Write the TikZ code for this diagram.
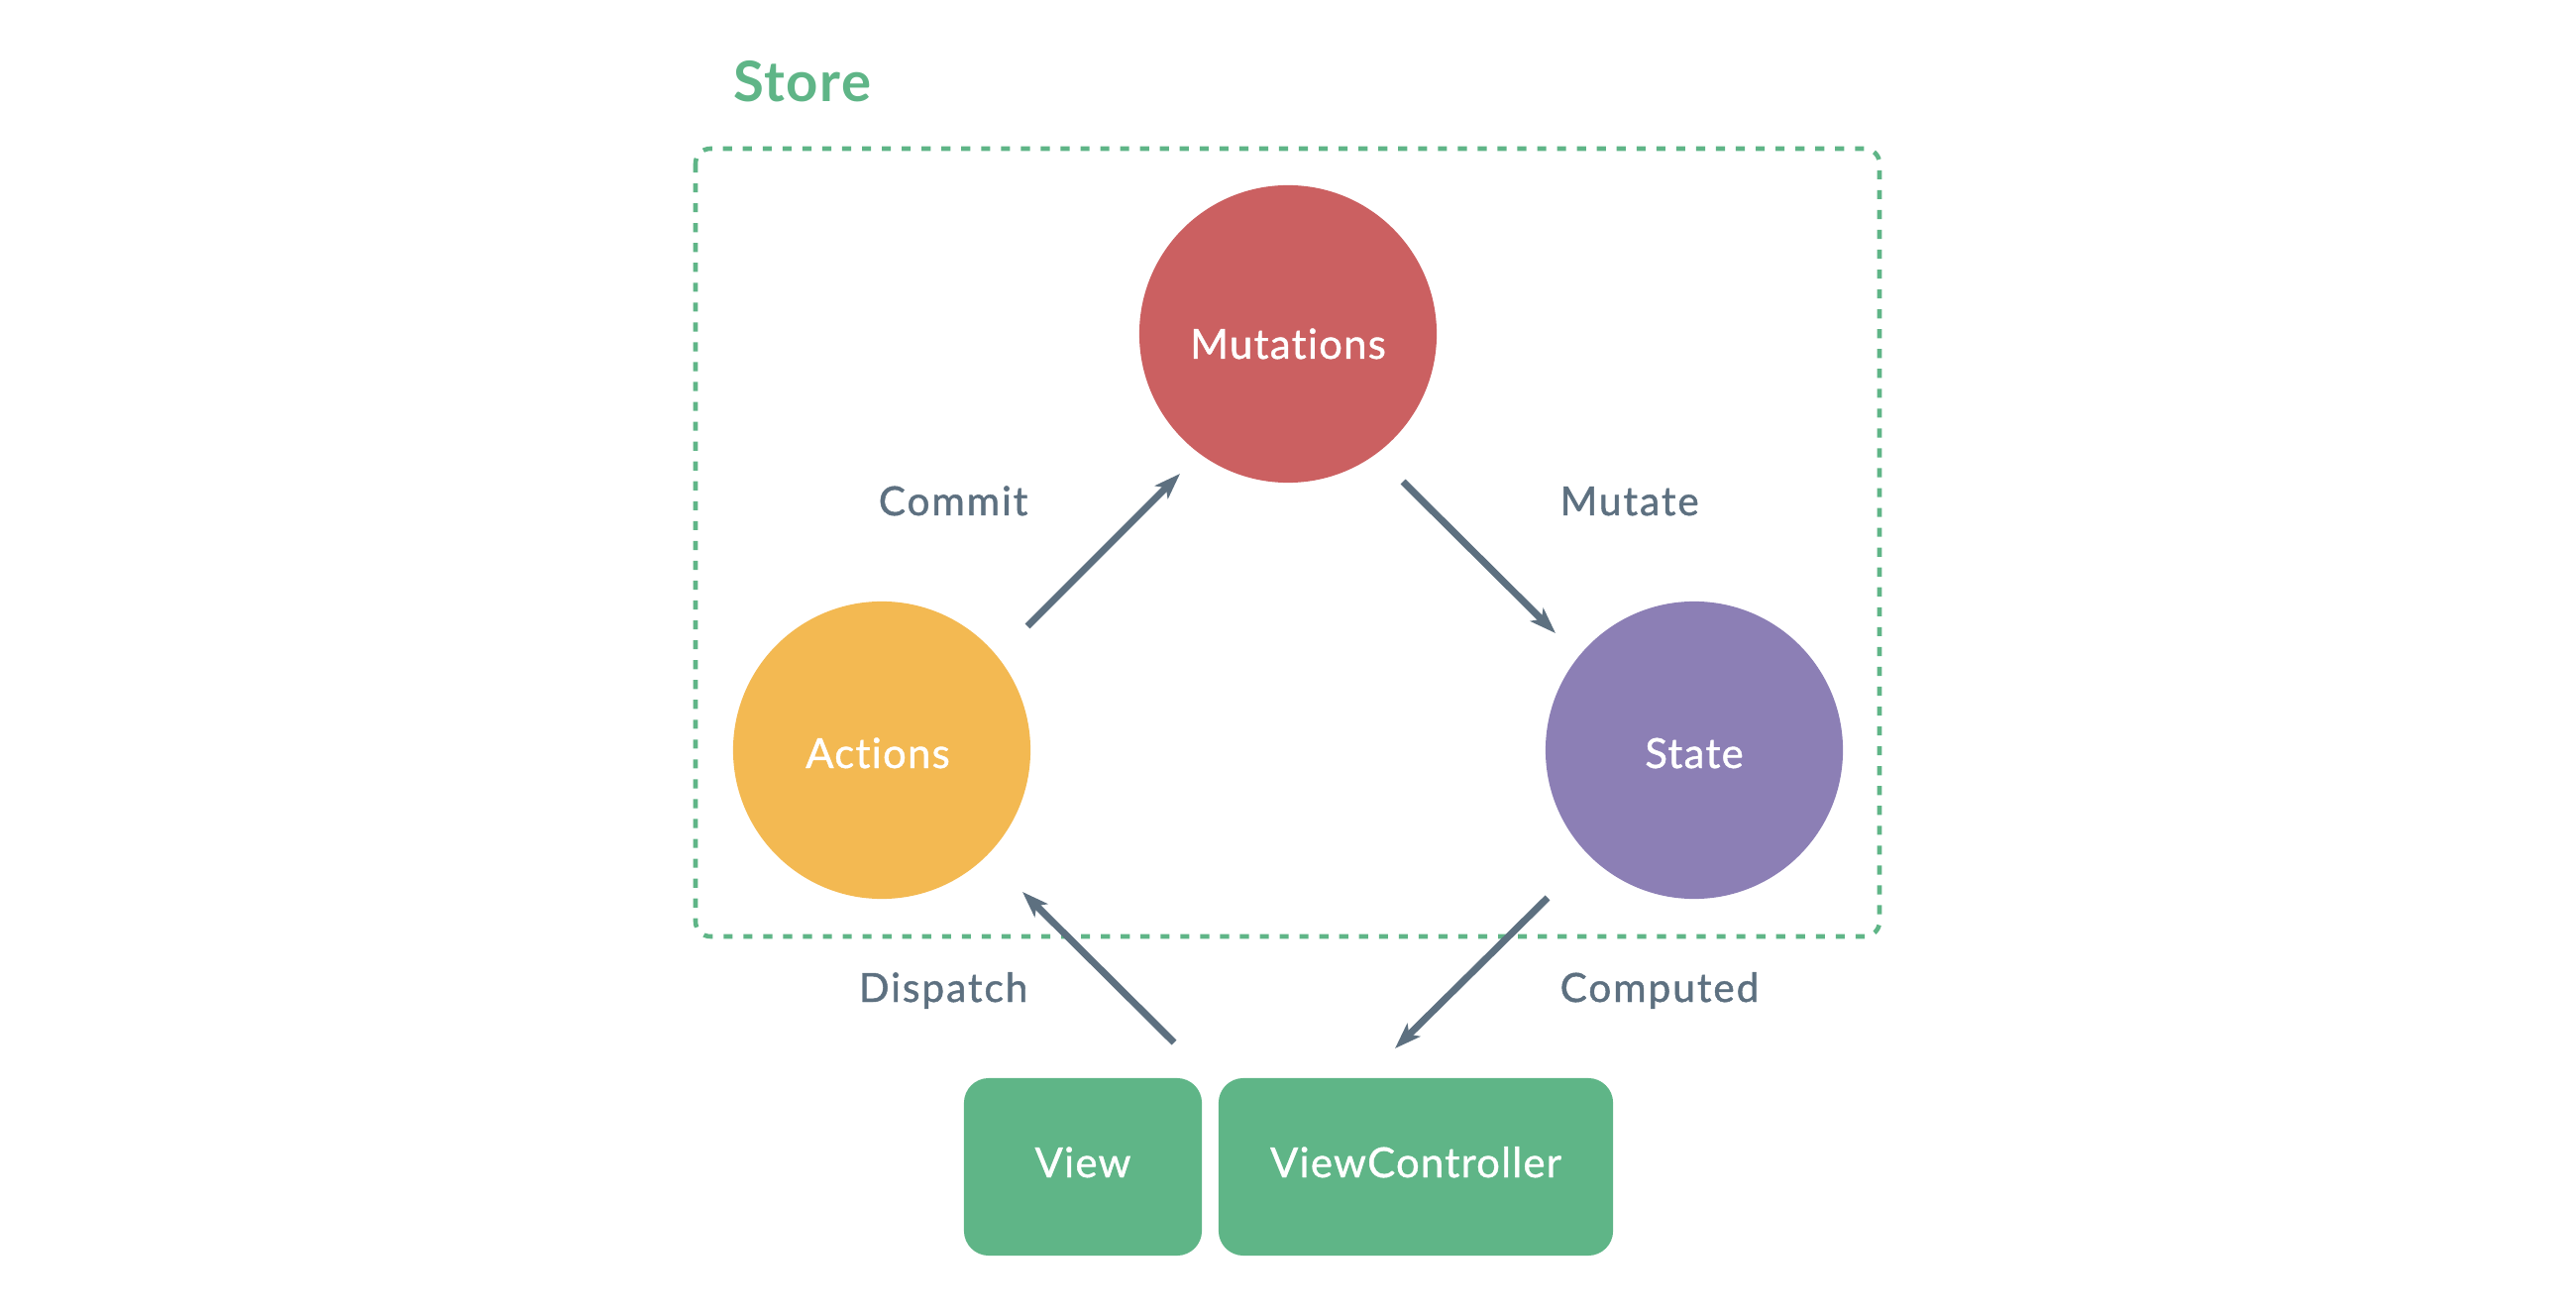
\documentclass[tikz,border=0pt]{standalone}
\usepackage{fontspec}
\setmainfont{Lato}
\newfontfamily\medfont{Lato}[FakeBold=1.0,LetterSpace=3,Ligatures=NoCommon]
\newfontfamily\labfont{Lato}[FakeBold=1.2,LetterSpace=5,Ligatures=NoCommon]
\newfontfamily\boldfont{Lato Bold}[LetterSpace=3,Ligatures=NoCommon]
\usetikzlibrary{arrows.meta}
\definecolor{mutred}{HTML}{CB6061}
\definecolor{actyellow}{HTML}{F3B952}
\definecolor{statepurple}{HTML}{8C7FB5}
\definecolor{vgreen}{HTML}{5FB587}
\definecolor{slate}{HTML}{5D7080}
\begin{document}
\begin{tikzpicture}[x=0.01cm,y=-0.01cm,
  circ/.style={circle,minimum size=3cm,inner sep=0pt,draw=none},
  ctext/.style={text=white,inner sep=0pt,anchor=base,font=\medfont\fontsize{11.9}{14}\selectfont},
  vbox/.style={rectangle,rounded corners=0.25cm,fill=vgreen,minimum height=1.79cm,inner sep=0pt},
  flow/.style={draw=slate,line width=2pt,-{Stealth[length=7.5pt,width=5.2pt,inset=1.8pt]}},
  lab/.style={text=slate,inner sep=0pt,font=\labfont\fontsize{11.5}{13}\selectfont},
  dashbox/.style={draw=vgreen,line width=1.3pt,dash pattern=on 2.6pt off 3.1pt,rounded corners=0.15cm}
]
\useasboundingbox (0,0) rectangle (2600,1328);

% Store frame
\draw[dashbox] (702,150) rectangle (1897,945);
\node[text=vgreen,inner sep=0pt,anchor=base,font=\boldfont\fontsize{16}{18}\selectfont] (storelabel) at (810,103) {Store};

% circles
\node[circ,fill=mutred] (mut) at (1300,337) {};
\node[circ,fill=actyellow] (act) at (890,757) {};
\node[circ,fill=statepurple] (state) at (1710,757) {};
\node[ctext] (muttext) at (1300,362) {Mutations};
\node[ctext] (acttext) at (886,775) {Actions};
\node[ctext] (statetext) at (1710,775) {State};

% bottom boxes
\node[vbox,minimum width=2.40cm] (view) at (1093,1177.5) {};
\node[vbox,minimum width=3.98cm] (vc) at (1429,1177.5) {};
\node[ctext] (viewtext) at (1093,1188) {View};
\node[ctext] (vctext) at (1429,1188) {ViewController};

% arrow end points
\coordinate (c1) at (1037,632);
\coordinate (c2) at (1191,478);
\coordinate (m1) at (1416,486);
\coordinate (m2) at (1570,639);
\coordinate (s1) at (1562,906);
\coordinate (s2) at (1408,1058);
\coordinate (d1) at (1185,1052);
\coordinate (d2) at (1032,900);

\draw[flow] (c1) -- (c2);
\draw[flow] (m1) -- (m2);
\draw[flow] (s1) -- (s2);
\draw[flow] (d1) -- (d2);

% labels
\node[lab,anchor=base east] (commit) at (1038,520) {Commit};
\node[lab,anchor=base west] (mutate) at (1574,520) {Mutate};
\node[lab,anchor=base east] (dispatch) at (1038,1011) {Dispatch};
\node[lab,anchor=base west] (computed) at (1574,1011) {Computed};
\end{tikzpicture}
\end{document}
